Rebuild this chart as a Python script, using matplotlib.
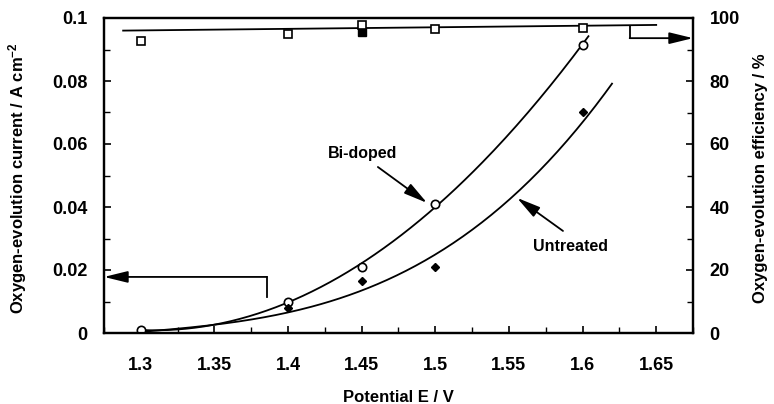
import numpy as np
import matplotlib
matplotlib.use("Agg")
import matplotlib.pyplot as plt

plt.rcParams["font.family"] = ["Liberation Sans", "DejaVu Sans"]
plt.rcParams["font.weight"] = "bold"
plt.rcParams["mathtext.fontset"] = "custom"
plt.rcParams["mathtext.rm"] = "Liberation Sans:bold"
plt.rcParams["mathtext.default"] = "rm"

# Current density vs. potential
E_bi = [1.30, 1.40, 1.45, 1.50, 1.60]
j_bi = [0.001, 0.010, 0.021, 0.041, 0.0915]
E_un = [1.40, 1.45, 1.50, 1.60]
j_un = [0.008, 0.0165, 0.021, 0.070]

# Trend-line values for the untreated electrode
E_un_trend = [1.30, 1.40, 1.45, 1.50, 1.55, 1.62]
j_un_trend = [0.0003, 0.0067, 0.0137, 0.024, 0.043, 0.079]

# Oxygen-evolution efficiency (%)
E_eff_bi = [1.30, 1.40, 1.45, 1.50, 1.60]
eff_bi = [92.8, 94.9, 97.8, 96.4, 96.9]
E_eff_un = [1.45]
eff_un = [95.7]
E_eff_line = [1.288, 1.65]
eff_line = [96.0, 97.8]

xticks = [1.3, 1.35, 1.4, 1.45, 1.5, 1.55, 1.6, 1.65]
yticks_left = [0, 0.02, 0.04, 0.06, 0.08, 0.1]
yticks_right = [0, 20, 40, 60, 80, 100]

fig = plt.figure(figsize=(7.74, 4.04), dpi=100)
ax = fig.add_axes([104 / 774, 71 / 404, 589 / 774, 315 / 404])
ax2 = ax.twinx()

lw_spine = 1.6
for a in (ax, ax2):
    for s in a.spines.values():
        s.set_linewidth(lw_spine)

# fitted curves
cb = np.polyfit(E_bi, j_bi, 2)
Eb = np.linspace(1.30, 1.604, 200)
ax.plot(Eb, np.polyval(cb, Eb), color="black", lw=1.3, zorder=2)
cu = np.polyfit(E_un_trend, j_un_trend, 3)
Eu = np.linspace(1.30, 1.62, 200)
ax.plot(Eu, np.polyval(cu, Eu), color="black", lw=1.3, zorder=2)

ax.plot(E_bi, j_bi, "o", ms=6, mfc="white", mec="black", mew=1.2, zorder=3)
ax.plot(E_un, j_un, "D", ms=3.6, mfc="black", mec="black", zorder=4)

ax2.plot(E_eff_line, eff_line, color="black", lw=1.3, zorder=2)
ax2.plot(E_eff_un, eff_un, "s", ms=5.5, mfc="black", mec="black", zorder=3)
ax2.plot(E_eff_bi, eff_bi, "s", ms=5.5, mfc="white", mec="black", mew=1.2, zorder=4)

ax.set_xlim(1.275, 1.675)
ax.set_ylim(0, 0.1)
ax2.set_ylim(0, 100)

ax.set_xticks(xticks)
ax.set_xticklabels(["%g" % v for v in xticks])
ax.set_xticks(np.arange(1.275, 1.676, 0.025), minor=True)
ax.set_yticks(yticks_left)
ax.set_yticklabels(["%g" % v for v in yticks_left])
ax.set_yticks(np.arange(0, 0.1001, 0.01), minor=True)
ax2.set_yticks(yticks_right)
ax2.set_yticks(np.arange(0, 101, 10), minor=True)

ax.tick_params(axis="both", which="both", direction="in", labelsize=13)
ax.tick_params(axis="x", which="major", length=5, width=1.2, pad=17)
ax.tick_params(axis="x", which="minor", length=4, width=1.0)
ax.tick_params(axis="y", which="major", length=5, width=1.2, pad=12)
ax.tick_params(axis="y", which="minor", length=4, width=1.0)
ax2.tick_params(axis="y", which="both", direction="in", labelsize=13, pad=12)
ax2.tick_params(axis="y", which="major", length=5, width=1.2)
ax2.tick_params(axis="y", which="minor", length=4, width=1.0)

ax.set_xlabel("Potential E / V", fontsize=12, fontweight="bold", labelpad=12)
fig.text(18 / 774, 0.56, r"Oxygen-evolution current / A cm$^{-2}$", rotation=90,
         ha="center", va="center", fontsize=12, fontweight="bold")
fig.text(760 / 774, 0.56, "Oxygen-evolution efficiency / %", rotation=90,
         ha="center", va="center", fontsize=12, fontweight="bold")

arrow = dict(arrowstyle="-|>,head_length=0.9,head_width=0.22", color="black",
             lw=1.3, mutation_scale=16, shrinkA=0, shrinkB=0)

# axis pointer for the current scale
ax.plot([1.3856, 1.3856], [0.0114, 0.0178], color="black", lw=1.3)
ax.annotate("", xy=(1.275, 0.0178), xytext=(1.3856, 0.0178), arrowprops=arrow)

# axis pointer for the efficiency scale
ax2.plot([1.632, 1.632], [97.6, 93.6], color="black", lw=1.3)
ax2.annotate("", xy=(1.675, 93.6), xytext=(1.632, 93.6), arrowprops=arrow,
             annotation_clip=False)

# curve labels
ax.text(1.4503, 0.0571, "Bi-doped", ha="center", va="center",
        fontsize=11.5, fontweight="bold")
ax.annotate("", xy=(1.4944, 0.0413), xytext=(1.461, 0.0527), arrowprops=arrow)
ax.text(1.5915, 0.0276, "Untreated", ha="center", va="center",
        fontsize=11.5, fontweight="bold")
ax.annotate("", xy=(1.5555, 0.0429), xytext=(1.5867, 0.0324), arrowprops=arrow)

fig.savefig("out.png", dpi=100)
